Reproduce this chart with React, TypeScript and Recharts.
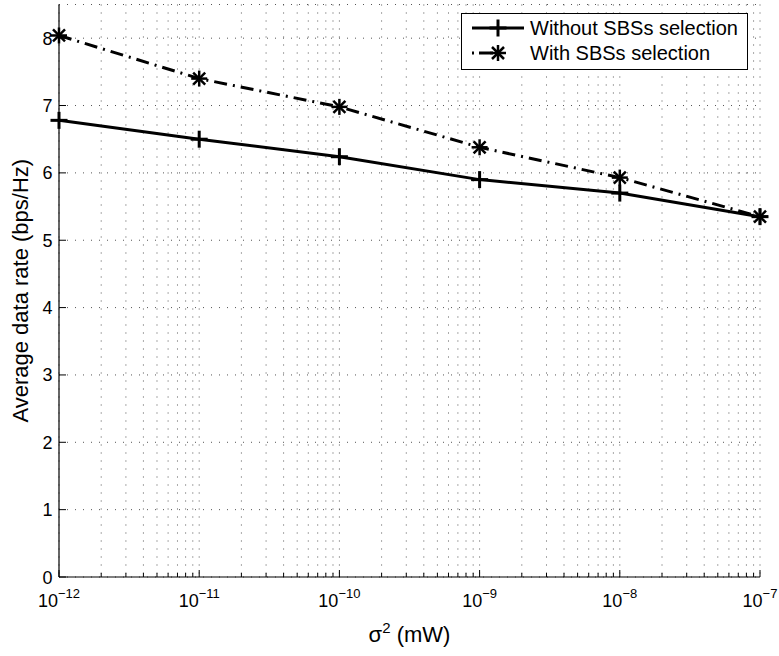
import React from 'react';
import { LineChart, Line, XAxis, YAxis, CartesianGrid, Legend } from 'recharts';

// noise variance (mW) and average rate (bps/Hz)
const noiseVar = [1e-12, 1e-11, 1e-10, 1e-9, 1e-8, 1e-7];
const rateWithout = [6.78, 6.5, 6.24, 5.9, 5.7, 5.35];
const rateWith = [8.04, 7.4, 6.98, 6.38, 5.93, 5.35];

const decadeExps = [-12, -11, -10, -9, -8, -7];
const minorMult = [2, 3, 4, 5, 6, 7, 8, 9];
const yTicks = [0, 1, 2, 3, 4, 5, 6, 7, 8];

const data = noiseVar.map((x, i) => ({ x, without: rateWithout[i], withSel: rateWith[i] }));

const xTicks = decadeExps
  .flatMap((e, i) =>
    i < decadeExps.length - 1
      ? [Number(`1e${e}`), ...minorMult.map(k => Number(`${k}e${e}`))]
      : [Number(`1e${e}`)]
  );

const FONT = '"Liberation Sans", Arial, Helvetica, sans-serif';
const MAJOR = 7;
const MINOR = 4;

const isMajor = (v: number) => {
  const lg = Math.log10(v);
  return Math.abs(lg - Math.round(lg)) < 1e-6;
};

const BottomTick = (props: any) => {
  const { x, y, payload } = props;
  const v = payload.value;
  const major = isMajor(v);
  const exp = Math.round(Math.log10(v));
  return (
    <g>
      <line x1={x} x2={x} y1={y} y2={y - (major ? MAJOR : MINOR)} stroke="#000" strokeWidth={1} />
      {major && (
        <text x={x} y={y + 30} textAnchor="middle" fontSize={18} fontFamily={FONT} fill="#000">
          <tspan>10</tspan>
          <tspan dy={-9.5} fontSize={13}>{`\u2212${-exp}`}</tspan>
        </text>
      )}
    </g>
  );
};

const TopTick = (props: any) => {
  const { x, y, payload } = props;
  const major = isMajor(payload.value);
  return <line x1={x} x2={x} y1={y} y2={y + (major ? MAJOR : MINOR)} stroke="#000" strokeWidth={1} />;
};

const LeftTick = (props: any) => {
  const { x, y, payload } = props;
  return (
    <g>
      <line x1={x} x2={x + MAJOR} y1={y} y2={y} stroke="#000" strokeWidth={1} />
      <text x={x - 6.5} y={y} dy={6.5} textAnchor="end" fontSize={18} fontFamily={FONT} fill="#000">
        {payload.value}
      </text>
    </g>
  );
};

const RightTick = (props: any) => {
  const { x, y } = props;
  return <line x1={x} x2={x - MAJOR} y1={y} y2={y} stroke="#000" strokeWidth={1} />;
};

const XLabel = (props: any) => {
  const vb = props.viewBox || { x: 59, y: 577, width: 701, height: 79 };
  return (
    <text x={vb.x + vb.width / 2} y={vb.y + 65} textAnchor="middle" fontSize={22} fontFamily={FONT} fill="#000">
      σ
      <tspan dy={-9} fontSize={15}>2</tspan>
      <tspan dy={9}> (mW)</tspan>
    </text>
  );
};

const YLabel = (props: any) => {
  const vb = props.viewBox || { x: 0, y: 4.5, width: 59, height: 572.5 };
  const cx = vb.x + 28;
  const cy = vb.y + vb.height / 2;
  return (
    <text transform={`translate(${cx},${cy}) rotate(-90)`} textAnchor="middle" fontSize={22} fontFamily={FONT} fill="#000">
      Average data rate (bps/Hz)
    </text>
  );
};

const PlusMark = ({ cx, cy }: { cx: number; cy: number }) => (
  <g stroke="#000" strokeWidth={3} fill="none">
    <line x1={cx - 8.5} x2={cx + 8.5} y1={cy} y2={cy} />
    <line x1={cx} x2={cx} y1={cy - 8.5} y2={cy + 8.5} />
  </g>
);

const StarMark = ({ cx, cy }: { cx: number; cy: number }) => (
  <g stroke="#000" strokeWidth={2.5} fill="none">
    <line x1={cx - 8} x2={cx + 8} y1={cy} y2={cy} />
    <line x1={cx} x2={cx} y1={cy - 8} y2={cy + 8} />
    <line x1={cx - 6} x2={cx + 6} y1={cy - 6} y2={cy + 6} />
    <line x1={cx - 6} x2={cx + 6} y1={cy + 6} y2={cy - 6} />
  </g>
);

const renderPlus = (p: any) => <PlusMark key={`plus-${p.index}`} cx={p.cx} cy={p.cy} />;
const renderStar = (p: any) => <StarMark key={`star-${p.index}`} cx={p.cx} cy={p.cy} />;

const DASH_DOT = '13 6 2 6';

const LegendBox = () => (
  <div
    style={{
      width: 287,
      height: 57,
      border: '1px solid #000',
      background: '#fff',
      boxSizing: 'border-box',
      fontFamily: FONT,
    }}
  >
    <svg width={285} height={55} style={{ display: 'block' }}>
      <line x1={10} x2={62} y1={14} y2={14} stroke="#000" strokeWidth={3} />
      <PlusMark cx={36} cy={14} />
      <text x={68} y={21} fontSize={20} fontFamily={FONT} fill="#000">Without SBSs selection</text>
      <line x1={10} x2={62} y1={39} y2={39} stroke="#000" strokeWidth={3} strokeDasharray="2 5 14 40" />
      <StarMark cx={36} cy={39} />
      <text x={68} y={46} fontSize={20} fontFamily={FONT} fill="#000">With SBSs selection</text>
    </svg>
  </div>
);

export default function App() {
  return (
    <div style={{ position: 'absolute', left: 0, top: 0, width: 779, height: 656, background: '#fff', fontFamily: FONT }}>
      <LineChart width={779} height={656} data={data} margin={{ top: 4.5, right: 19, bottom: 0, left: 0 }}>
        <CartesianGrid stroke="#555" strokeWidth={1} strokeDasharray="1 7" />
        <XAxis
          dataKey="x"
          type="number"
          scale="log"
          domain={[noiseVar[0], noiseVar[noiseVar.length - 1]]}
          ticks={xTicks}
          interval={0}
          tickSize={0}
          tickMargin={0}
          height={79}
          tick={<BottomTick />}
          tickLine={false}
          axisLine={{ stroke: '#000', strokeWidth: 1.2 }}
          label={<XLabel />}
        />
        <XAxis
          xAxisId="top"
          orientation="top"
          dataKey="x"
          type="number"
          scale="log"
          domain={[noiseVar[0], noiseVar[noiseVar.length - 1]]}
          ticks={xTicks}
          interval={0}
          tickSize={0}
          tickMargin={0}
          height={0}
          tick={<TopTick />}
          tickLine={false}
          axisLine={{ stroke: '#000', strokeWidth: 1.2 }}
        />
        <YAxis
          type="number"
          domain={[0, 8.5]}
          ticks={yTicks}
          interval={0}
          width={59}
          tickSize={0}
          tickMargin={0}
          tick={<LeftTick />}
          tickLine={false}
          axisLine={{ stroke: '#000', strokeWidth: 1.2 }}
          label={<YLabel />}
        />
        <YAxis
          yAxisId="right"
          orientation="right"
          type="number"
          domain={[0, 8.5]}
          ticks={yTicks}
          interval={0}
          width={0}
          tickSize={0}
          tickMargin={0}
          tick={<RightTick />}
          tickLine={false}
          axisLine={{ stroke: '#000', strokeWidth: 1.2 }}
        />
        <Legend
          layout="vertical"
          align="center"
          verticalAlign="middle"
          content={<LegendBox />}
          wrapperStyle={{ left: 461, top: 13, width: 287, height: 57 }}
        />
        <Line
          dataKey="without"
          name="Without SBSs selection"
          stroke="#000"
          strokeWidth={3}
          dot={renderPlus}
          activeDot={false}
          isAnimationActive={false}
        />
        <Line
          dataKey="withSel"
          name="With SBSs selection"
          stroke="#000"
          strokeWidth={3}
          strokeDasharray={DASH_DOT}
          dot={renderStar}
          activeDot={false}
          isAnimationActive={false}
        />
      </LineChart>
    </div>
  );
}
